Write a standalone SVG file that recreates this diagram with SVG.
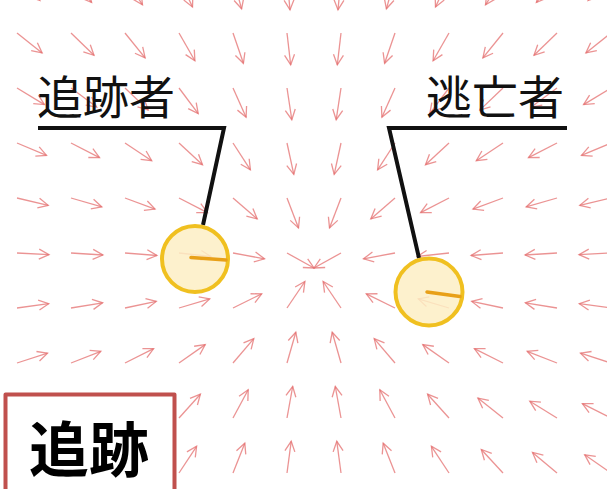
<svg xmlns="http://www.w3.org/2000/svg" width="607" height="489" viewBox="0 0 607 489">
<style>
.fa{fill:none;stroke:#e46f6f;stroke-width:1.3;stroke-opacity:0.75;marker-end:url(#ah)}
.lbl{font-family:"Noto Sans CJK JP","Noto Sans CJK SC",sans-serif;font-size:46px;font-weight:400;fill:#111;text-anchor:middle}
.lead{fill:none;stroke:#111;stroke-width:4;stroke-linejoin:miter}
.agent{fill:#fdeec4;fill-opacity:0.85;stroke:#f0c020;stroke-width:4}
.head{stroke:#e8a018;stroke-width:3.5;stroke-linecap:round}
</style>
<defs>
<marker id="ah" markerUnits="userSpaceOnUse" markerWidth="12" markerHeight="12" refX="0" refY="0" orient="auto" overflow="visible">
<path d="M-10,-5 L0,0 L-10,5" fill="none" stroke="#e46f6f" stroke-width="1.3" stroke-opacity="0.75"/>
</marker>
</defs>
<rect width="607" height="489" fill="#fff"/>
<g id="field">
<path class="fa" d="M17 -22 l22.9 22.4"/><path class="fa" d="M71 -22 l20.6 24.5"/><path class="fa" d="M125 -22 l17.5 26.8"/><path class="fa" d="M179 -22 l13.5 29"/><path class="fa" d="M233 -22 l8.6 30.8"/><path class="fa" d="M287 -22 l3 31.9"/>
<path class="fa" d="M341 -22 l-3 31.9"/><path class="fa" d="M395 -22 l-8.6 30.8"/><path class="fa" d="M449 -22 l-13.5 29"/><path class="fa" d="M503 -22 l-17.5 26.8"/><path class="fa" d="M557 -22 l-20.6 24.5"/><path class="fa" d="M611 -22 l-22.9 22.4"/>

<path class="fa" d="M17 33 l25.1 19.9"/><path class="fa" d="M71 33 l23 22.3"/><path class="fa" d="M125 33 l20.1 24.9"/><path class="fa" d="M179 33 l15.9 27.8"/><path class="fa" d="M233 33 l10.4 30.3"/><path class="fa" d="M287 33 l3.7 31.8"/>
<path class="fa" d="M341 33 l-3.7 31.8"/><path class="fa" d="M395 33 l-10.4 30.3"/><path class="fa" d="M449 33 l-15.9 27.8"/><path class="fa" d="M503 33 l-20.1 24.9"/><path class="fa" d="M557 33 l-23 22.3"/><path class="fa" d="M611 33 l-25.1 19.9"/>

<path class="fa" d="M17 88 l27.4 16.6"/><path class="fa" d="M71 88 l25.7 19.1"/><path class="fa" d="M125 88 l23.2 22.1"/><path class="fa" d="M179 88 l19.2 25.6"/><path class="fa" d="M233 88 l13.1 29.2"/><path class="fa" d="M287 88 l4.8 31.7"/>
<path class="fa" d="M341 88 l-4.8 31.7"/><path class="fa" d="M395 88 l-13.1 29.2"/><path class="fa" d="M449 88 l-19.2 25.6"/><path class="fa" d="M503 88 l-23.2 22.1"/><path class="fa" d="M557 88 l-25.7 19.1"/><path class="fa" d="M611 88 l-27.4 16.6"/>

<path class="fa" d="M17 143 l29.5 12.4"/><path class="fa" d="M71 143 l28.5 14.6"/><path class="fa" d="M125 143 l26.7 17.7"/><path class="fa" d="M179 143 l23.5 21.7"/><path class="fa" d="M233 143 l17.4 26.9"/><path class="fa" d="M287 143 l6.8 31.3"/>
<path class="fa" d="M341 143 l-6.8 31.3"/><path class="fa" d="M395 143 l-17.4 26.9"/><path class="fa" d="M449 143 l-23.5 21.7"/><path class="fa" d="M503 143 l-26.7 17.7"/><path class="fa" d="M557 143 l-28.5 14.6"/><path class="fa" d="M611 143 l-29.5 12.4"/>

<path class="fa" d="M17 198 l31.2 7.3"/><path class="fa" d="M71 198 l30.8 8.9"/><path class="fa" d="M125 198 l30 11.1"/><path class="fa" d="M179 198 l28.4 14.7"/><path class="fa" d="M233 198 l24.2 20.9"/><path class="fa" d="M287 198 l11.5 29.9"/>
<path class="fa" d="M341 198 l-11.5 29.9"/><path class="fa" d="M395 198 l-24.2 20.9"/><path class="fa" d="M449 198 l-28.4 14.7"/><path class="fa" d="M503 198 l-30 11.1"/><path class="fa" d="M557 198 l-30.8 8.9"/><path class="fa" d="M611 198 l-31.2 7.3"/>

<path class="fa" d="M17 253 l32 1.6"/><path class="fa" d="M71 253 l31.9 2"/><path class="fa" d="M125 253 l31.9 2.5"/><path class="fa" d="M179 253 l31.8 3.5"/><path class="fa" d="M233 253 l31.5 5.8"/><path class="fa" d="M287 253 l27 15"/>
<path class="fa" d="M341 253 l-27 15"/><path class="fa" d="M395 253 l-31.5 5.8"/><path class="fa" d="M449 253 l-31.8 3.5"/><path class="fa" d="M503 253 l-31.9 2.5"/><path class="fa" d="M557 253 l-31.9 2"/><path class="fa" d="M611 253 l-32 1.6"/>

<path class="fa" d="M17 308 l31.7 -4.3"/><path class="fa" d="M71 308 l31.6 -5.2"/><path class="fa" d="M125 308 l31.3 -6.6"/><path class="fa" d="M179 308 l30.7 -9.1"/><path class="fa" d="M233 308 l28.7 -14.2"/><path class="fa" d="M287 308 l17.9 -26.5"/>
<path class="fa" d="M341 308 l-17.9 -26.5"/><path class="fa" d="M395 308 l-28.7 -14.2"/><path class="fa" d="M449 308 l-30.7 -9.1"/><path class="fa" d="M503 308 l-31.3 -6.6"/><path class="fa" d="M557 308 l-31.6 -5.2"/><path class="fa" d="M611 308 l-31.7 -4.3"/>

<path class="fa" d="M17 363 l30.5 -9.8"/><path class="fa" d="M71 363 l29.8 -11.7"/><path class="fa" d="M125 363 l28.6 -14.4"/><path class="fa" d="M179 363 l26.2 -18.4"/><path class="fa" d="M233 363 l20.8 -24.4"/><path class="fa" d="M287 363 l8.8 -30.8"/>
<path class="fa" d="M341 363 l-8.8 -30.8"/><path class="fa" d="M395 363 l-20.8 -24.4"/><path class="fa" d="M449 363 l-26.2 -18.4"/><path class="fa" d="M503 363 l-28.6 -14.4"/><path class="fa" d="M557 363 l-29.8 -11.7"/><path class="fa" d="M611 363 l-30.5 -9.8"/>

<path class="fa" d="M17 418 l28.6 -14.4"/><path class="fa" d="M71 418 l27.2 -16.8"/><path class="fa" d="M125 418 l25.1 -19.9"/><path class="fa" d="M179 418 l21.4 -23.8"/><path class="fa" d="M233 418 l15.2 -28.2"/><path class="fa" d="M287 418 l5.7 -31.5"/>
<path class="fa" d="M341 418 l-5.7 -31.5"/><path class="fa" d="M395 418 l-15.2 -28.2"/><path class="fa" d="M449 418 l-21.4 -23.8"/><path class="fa" d="M503 418 l-25.1 -19.9"/><path class="fa" d="M557 418 l-27.2 -16.8"/><path class="fa" d="M611 418 l-28.6 -14.4"/>

<path class="fa" d="M17 473 l26.3 -18.2"/><path class="fa" d="M71 473 l24.5 -20.6"/><path class="fa" d="M125 473 l21.7 -23.5"/><path class="fa" d="M179 473 l17.6 -26.7"/><path class="fa" d="M233 473 l11.8 -29.8"/><path class="fa" d="M287 473 l4.2 -31.7"/>
<path class="fa" d="M341 473 l-4.2 -31.7"/><path class="fa" d="M395 473 l-11.8 -29.8"/><path class="fa" d="M449 473 l-17.6 -26.7"/><path class="fa" d="M503 473 l-21.7 -23.5"/><path class="fa" d="M557 473 l-24.5 -20.6"/><path class="fa" d="M611 473 l-26.3 -18.2"/>
</g>
<g id="connectors">
<path class="lead" d="M38 128 L224 128 L203 225"/>
<path class="lead" d="M567 128 L389 128 L419 258"/>
</g>
<g id="pursuer">
<circle class="agent" cx="195" cy="259" r="33"/>
<line class="head" x1="191" y1="257.5" x2="226" y2="260"/>
</g>
<g id="evader">
<circle class="agent" cx="429" cy="292" r="33.5"/>
<line class="head" x1="427" y1="292" x2="460" y2="296.5"/>
</g>
<g id="label-pursuer">
<text class="lbl" x="106" y="114">追跡者</text>
</g>
<g id="label-evader">
<text class="lbl" x="495" y="114">逃亡者</text>
</g>
<g id="title">
<rect x="5.5" y="394.5" width="169" height="95" fill="#fff"/>
<path d="M5.5 489 V394.5 H174.5 V489" fill="none" stroke="#c0504d" stroke-width="4" stroke-linejoin="round"/>
<text x="89" y="472" font-family="'Noto Sans CJK JP','Noto Sans CJK SC',sans-serif" font-size="60" font-weight="700" fill="#000" text-anchor="middle">追跡</text>
</g>
</svg>
